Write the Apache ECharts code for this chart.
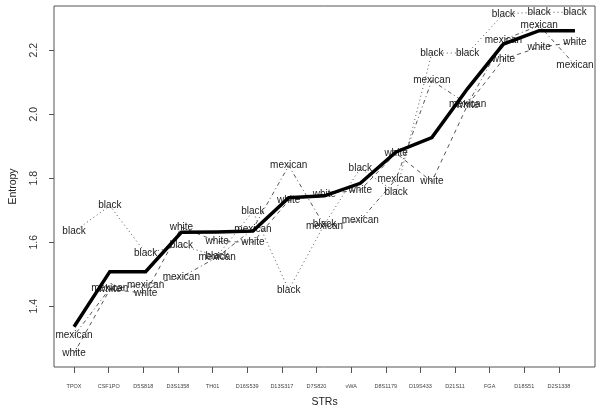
<!DOCTYPE html>
<html>
<head>
<meta charset="utf-8">
<script src="https://cdn.jsdelivr.net/npm/echarts@6/dist/echarts.min.js"></script>
<style>
  html, body { margin: 0; padding: 0; background: #fff; }
  #chart { width: 602px; height: 420px; }
</style>
</head>
<body>
<div id="chart"></div>
<script>
// loci on the x axis
const strs = ['TPOX', 'CSF1PO', 'D5S818', 'D3S1358', 'TH01', 'D16S539', 'D13S317', 'D7S820',
  'vWA', 'D8S1179', 'D19S433', 'D21S11', 'FGA', 'D18S51', 'D2S1338']
// where the axis ticks sit (they drift a bit from the points in the original)
const tickPos = [1, 1.968, 2.936, 3.904, 4.872, 5.84, 6.808, 7.776, 8.744, 9.712, 10.68, 11.648, 12.616, 13.584, 14.552]
const yTicks = [1.4, 1.6, 1.8, 2.0, 2.2]

// entropy per locus
const overall = [1.336, 1.508, 1.508, 1.631, 1.632, 1.635, 1.739, 1.745, 1.784, 1.882, 1.927, 2.08, 2.219, 2.261, 2.261]
const black = [1.633, 1.714, 1.566, 1.589, 1.557, 1.696, 1.451, 1.656, 1.831, 1.755, 2.191, 2.191, 2.313, 2.319, 2.318]
const mexican = [1.308, 1.455, 1.466, 1.491, 1.553, 1.641, 1.839, 1.651, 1.668, 1.797, 2.105, 2.031, 2.232, 2.277, 2.154]
const white = [1.253, 1.452, 1.441, 1.647, 1.602, 1.600, 1.730, 1.751, 1.763, 1.878, 1.789, 2.029, 2.172, 2.209, 2.225]

const FONT = '"Liberation Sans", Arial, sans-serif'
const toPts = (arr) => arr.map((v, i) => [i + 1, v])

// thin line with the group name written at every point
const groupSeries = (name, values, dash) => ({
  name: name,
  type: 'line',
  data: toPts(values),
  symbol: 'circle',
  symbolSize: 0,
  showSymbol: true,
  silent: true,
  z: 2,
  lineStyle: { color: '#555', width: 1, type: dash },
  itemStyle: { color: 'transparent' },
  label: {
    show: true,
    position: 'inside',
    formatter: name,
    color: '#222',
    fontFamily: FONT,
    fontSize: 10,
  },
})

const chart = echarts.init(document.getElementById('chart'), null, { renderer: 'canvas' })

chart.setOption({
  animation: false,
  backgroundColor: '#fff',
  grid: {
    left: 52,
    right: 7,
    top: 6,
    bottom: 53,
    show: true,
    borderColor: '#555',
    borderWidth: 1,
  },
  xAxis: {
    type: 'value',
    min: 0.44,
    max: 15.56,
    name: 'STRs',
    nameLocation: 'middle',
    nameGap: 30,
    nameTextStyle: { fontFamily: FONT, fontSize: 10.5, color: '#222' },
    axisLine: { show: false },
    splitLine: { show: false },
    axisTick: { show: true, customValues: tickPos, length: 6, lineStyle: { color: '#555' } },
    axisLabel: {
      customValues: tickPos,
      margin: 16,
      fontFamily: FONT,
      fontSize: 5.5,
      color: '#444',
      formatter: (v) => {
        const i = tickPos.findIndex((t) => Math.abs(t - v) < 1e-6)
        return i >= 0 ? strs[i] : ''
      },
    },
  },
  yAxis: {
    type: 'value',
    min: 1.21,
    max: 2.338,
    name: 'Entropy',
    nameLocation: 'middle',
    nameGap: 35,
    nameTextStyle: { fontFamily: FONT, fontSize: 10.5, color: '#222' },
    axisLine: { show: false },
    splitLine: { show: false },
    axisTick: { show: true, customValues: yTicks, length: 5, lineStyle: { color: '#555' } },
    axisLabel: {
      customValues: yTicks,
      rotate: 90,
      margin: 14,
      fontFamily: FONT,
      fontSize: 10.5,
      color: '#333',
      formatter: (v) => v.toFixed(1),
    },
  },
  series: [
    groupSeries('black', black, [1, 3]),
    groupSeries('mexican', mexican, [1, 3, 4, 3]),
    groupSeries('white', white, [4, 4]),
    {
      name: 'overall',
      type: 'line',
      data: toPts(overall),
      symbol: 'none',
      silent: true,
      z: 5,
      lineStyle: { color: '#000', width: 3.5, cap: 'butt', join: 'miter' },
    },
  ],
})
</script>
</body>
</html>
